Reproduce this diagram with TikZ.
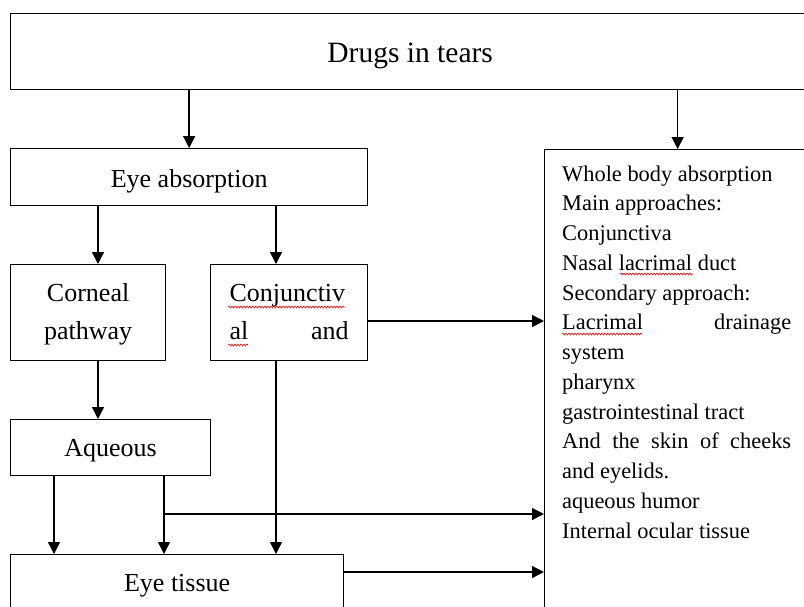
\documentclass[tikz,border=0pt]{standalone}
\usepackage{fontspec}
\setmainfont{Liberation Serif}
\usetikzlibrary{arrows.meta,positioning,decorations.pathmorphing}

\begin{document}
\begin{tikzpicture}[
x=1pt,
y=-1pt,
box/.style={
  draw,
  line width=1.3pt,
  inner sep=0pt,
  align=center,
  anchor=north west,
  font=\fontsize{26}{38}\selectfont
  },
oneline/.style={
  text height=22pt,
  text depth=4pt
  },
twoline/.style={
  text height=21pt,
  text depth=0pt
  },
arr/.style={
  draw,
  line width=1.4pt,
  -{Triangle[length=12pt,width=12pt]}
  },
wavy/.style={
  draw=red,
  line width=0.6pt,
  decorate,
  decoration={snake,amplitude=1pt,segment length=3pt}
  },
entry/.style={
  anchor=base west,
  inner sep=0pt,
  font=\fontsize{22.4}{29.75}\selectfont
  }
]
\clip (0,0) rectangle (804,606);

% boxes
\node[box, minimum width=799pt, minimum height=76pt, text height=24pt, text depth=2pt,
  font=\fontsize{29.5}{36}\selectfont] (tears) at (10,13) {Drugs in tears};
\node[box, minimum width=357pt, minimum height=57pt, text height=23pt, text depth=2pt] (eye) at (10,148) {Eye absorption};
\node[box, minimum width=155pt, minimum height=96pt] (corneal) at (10,264) {\strut Corneal\\pathway\strut};
\node[box, minimum width=157pt, minimum height=96pt] (conj) at (210,264)
  {\strut\makebox[119pt][l]{Conjunctiv}\\\makebox[119pt]{al\hfill and}\strut};
\node[box, oneline, minimum width=200pt, minimum height=56pt] (aqueous) at (10,419) {Aqueous};
\node[box, oneline, minimum width=333pt, minimum height=56pt] (tissue) at (10,554) {Eye tissue};
\node[box, minimum width=266pt, minimum height=500pt] (whole) at (544,149) {};

% text of the right box
\foreach \txt [count=\i from 0] in {Whole body absorption, Main approaches:, Conjunctiva,
  Nasal lacrimal duct, Secondary approach:, {\makebox[229pt]{Lacrimal\hfill drainage}},
  system, pharynx, gastrointestinal tract, {\makebox[229pt][s]{And the skin of cheeks}},
  and eyelids., aqueous humor, Internal ocular tissue}
  \node[entry] (line\i) at (562,181+29.75*\i) {\txt};

% spell check marks
\draw[wavy] (620,274) -- (693,274);
\draw[wavy] (562,334) -- (642,334);
\draw[wavy] (228,307) -- (345,307);
\draw[wavy] (228,345) -- (248,345);

% columns and rows of the connectors
\coordinate (xa) at (98,0);
\coordinate (xb) at (276,0);
\coordinate (xc) at (54,0);
\coordinate (xd) at (164,0);
\coordinate (ra) at (0,321);
\coordinate (rb) at (0,514);
\coordinate (rc) at (0,572);

\draw[arr] (tears.south -| eye.north) -- (eye.north);
\draw[arr] (tears.south -| whole.north) -- (whole.north);
\draw[arr] (eye.south -| xa) -- (corneal.north -| xa);
\draw[arr] (eye.south -| xb) -- (conj.north -| xb);
\draw[arr] (conj.east |- ra) -- (whole.west |- ra);
\draw[arr] (corneal.south -| xa) -- (aqueous.north -| xa);
\draw[arr] (aqueous.south -| xc) -- (tissue.north -| xc);
\draw[arr] (aqueous.south -| xd) -- (tissue.north -| xd);
\draw[arr] (xd |- rb) -- (whole.west |- rb);
\draw[arr] (conj.south -| xb) -- (tissue.north -| xb);
\draw[arr] (tissue.east |- rc) -- (whole.west |- rc);

\end{tikzpicture}
\end{document}
